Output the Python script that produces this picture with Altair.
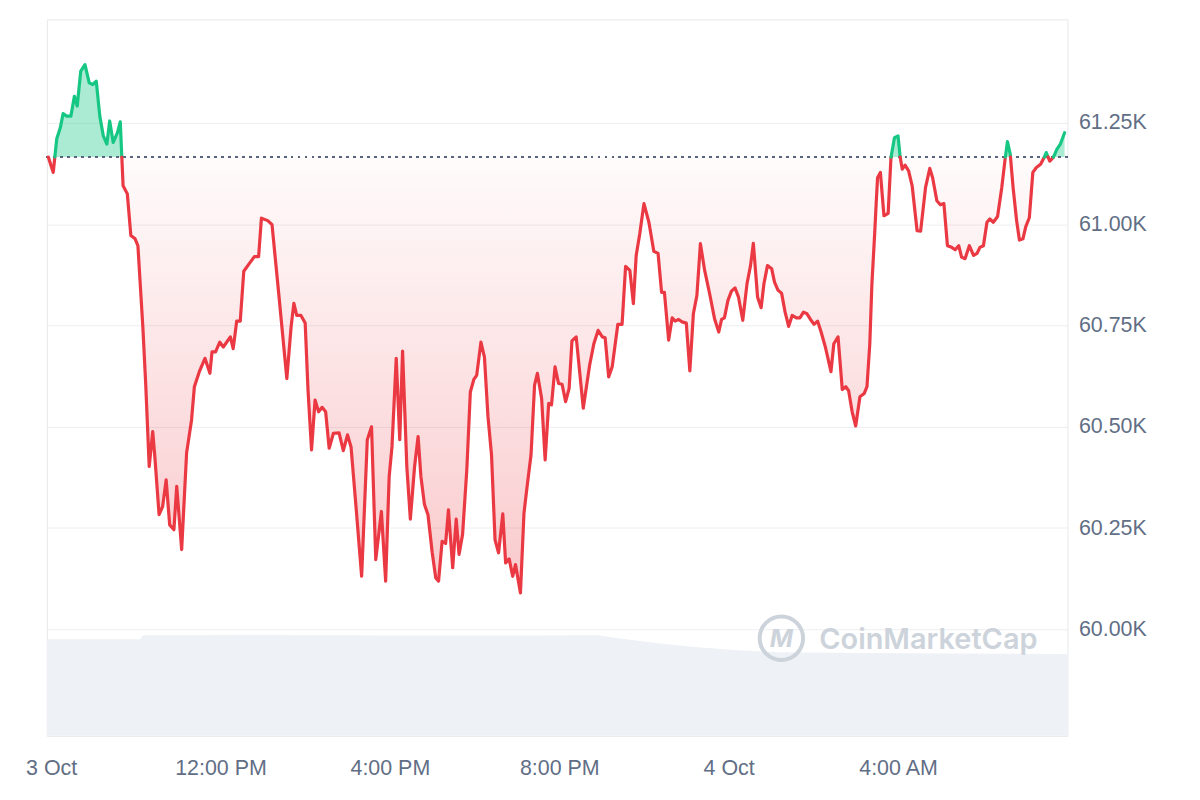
import altair as alt
import pandas as pd

START = "2024-10-03 08:00"
BASE_PRICE = 61166

# minutes after 3 Oct 08:00 and BTC price (USD)
MINUTES = [-4, 3, 8, 13, 17, 22, 28, 33, 37, 42, 48, 54, 59, 64, 69, 74, 79, 83, 88, 94,
           98, 102, 108, 113, 119, 123, 130, 134, 139, 144, 147, 153, 158, 163, 168, 174, 178, 185, 192, 199,
           203, 210, 218, 225, 228, 233, 239, 244, 254, 258, 263, 268, 273, 280, 288, 294, 298, 307, 313, 323,
           334, 340, 344, 348, 354, 360, 364, 369, 374, 379, 384, 389, 394, 400, 408, 414, 420, 425, 432, 440,
           448, 454, 460, 468, 474, 479, 483, 489, 494, 498, 504, 509, 515, 520, 524, 529, 534, 540, 545, 549,
           554, 559, 563, 569, 574, 578, 583, 589, 594, 599, 603, 609, 614, 619, 624, 629, 634, 640, 644, 649,
           654, 658, 665, 670, 675, 680, 685, 689, 695, 700, 705, 709, 714, 719, 724, 729, 734, 738, 744, 754,
           763, 769, 775, 781, 785, 790, 795, 803, 809, 814, 820, 825, 829, 834, 840, 847, 854, 860, 865, 869,
           875, 880, 884, 889, 894, 900, 905, 910, 915, 920, 926, 933, 940, 946, 950, 954, 959, 964, 969, 974,
           980, 986, 991, 995, 1001, 1006, 1010, 1015, 1021, 1025, 1030, 1035, 1040, 1045, 1050, 1056, 1061, 1066, 1071, 1076,
           1081, 1086, 1091, 1097, 1105, 1109, 1115, 1121, 1126, 1130, 1135, 1140, 1146, 1152, 1156, 1160, 1163, 1167, 1169, 1171,
           1175, 1180, 1186, 1190, 1195, 1200, 1203, 1206, 1210, 1215, 1220, 1227, 1232, 1239, 1245, 1249, 1255, 1260, 1265, 1270,
           1276, 1281, 1286, 1290, 1295, 1301, 1307, 1312, 1316, 1321, 1326, 1330, 1335, 1341, 1347, 1352, 1355, 1359, 1363, 1368,
           1372, 1377, 1381, 1386, 1391, 1396, 1402, 1407, 1410, 1415, 1420, 1425, 1430, 1436]
PRICES = [61166, 61128, 61211, 61238, 61273, 61267, 61267, 61316, 61292, 61378, 61394, 61349, 61345, 61353, 61267, 61218, 61198, 61255, 61202, 61226,
          61253, 61095, 61075, 60972, 60964, 60947, 60746, 60608, 60402, 60488, 60426, 60283, 60303, 60369, 60258, 60246, 60353, 60197, 60436, 60517,
          60599, 60636, 60669, 60632, 60685, 60685, 60709, 60697, 60722, 60693, 60761, 60761, 60884, 60901, 60920, 60920, 61015, 61009, 60999, 60820,
          60619, 60746, 60805, 60775, 60775, 60756, 60591, 60443, 60566, 60537, 60548, 60537, 60447, 60484, 60485, 60441, 60480, 60450, 60303, 60131,
          60468, 60500, 60172, 60291, 60119, 60377, 60451, 60669, 60468, 60687, 60402, 60272, 60402, 60476, 60377, 60308, 60283, 60189, 60127, 60119,
          60217, 60212, 60295, 60152, 60272, 60185, 60234, 60394, 60586, 60617, 60627, 60709, 60672, 60525, 60431, 60221, 60189, 60285, 60164, 60174,
          60131, 60160, 60090, 60287, 60361, 60431, 60603, 60632, 60570, 60418, 60558, 60554, 60648, 60607, 60605, 60562, 60595, 60712, 60722, 60546,
          60652, 60705, 60738, 60722, 60720, 60623, 60648, 60753, 60753, 60896, 60886, 60804, 60923, 60976, 61051, 61005, 60933, 60928, 60832, 60832,
          60714, 60769, 60761, 60765, 60759, 60756, 60638, 60779, 60824, 60952, 60886, 60829, 60767, 60734, 60765, 60769, 60812, 60835, 60843, 60820,
          60763, 60853, 60898, 60953, 60820, 60794, 60853, 60898, 60890, 60857, 60837, 60830, 60783, 60748, 60775, 60769, 60769, 60783, 60779, 60765,
          60753, 60761, 60734, 60697, 60636, 60705, 60722, 60592, 60599, 60589, 60537, 60502, 60574, 60582, 60599, 60705, 60853, 60980, 61050, 61115,
          61128, 61021, 61027, 61165, 61214, 61218, 61166, 61136, 61146, 61132, 61095, 60984, 60983, 61091, 61138, 61115, 61058, 61048, 61051, 60947,
          60943, 60937, 60947, 60919, 60915, 60947, 60923, 60928, 60943, 60947, 61005, 61013, 61005, 61019, 61091, 61165, 61204, 61173, 61091, 61009,
          60961, 60964, 60994, 61016, 61128, 61140, 61148, 61165, 61177, 61156, 61165, 61185, 61198, 61226]

# 24h volume (billion USD) underlay
VOL_MINUTES = [-6, 126, 130, 300, 500, 775, 803, 860, 916, 973, 1029, 1199, 1440]
VOLUMES = [32.4, 32.4, 33.7, 33.8, 33.6, 33.7, 32.7, 31.0, 29.7, 28.7, 28.0, 27.7, 27.4]

Y_TICKS = [60000, 60250, 60500, 60750, 61000, 61250]
X_TICK_MINUTES = [0, 240, 480, 720, 960, 1200]

t0 = pd.Timestamp(START)
def ts(m):
    return t0 + pd.Timedelta(minutes=float(m))

# insert baseline crossings so colours switch exactly at the reference price
pts = []
for i, (m, p) in enumerate(zip(MINUTES, PRICES)):
    if i > 0:
        m0, p0 = MINUTES[i - 1], PRICES[i - 1]
        if (p0 - BASE_PRICE) * (p - BASE_PRICE) < 0:
            f = (BASE_PRICE - p0) / (p - p0)
            pts.append((m0 + f * (m - m0), BASE_PRICE))
    pts.append((m, p))

line_rows = []
seg, prev = 0, None
for i in range(len(pts) - 1):
    (ma, pa), (mb, pb) = pts[i], pts[i + 1]
    s = "up" if (pa + pb) / 2 > BASE_PRICE else "down"
    if s != prev:
        seg += 1
        line_rows.append({"time": ts(ma), "price": pa, "sign": s, "seg": seg})
        prev = s
    line_rows.append({"time": ts(mb), "price": pb, "sign": s, "seg": seg})
line_df = pd.DataFrame(line_rows)

area_df = pd.DataFrame({
    "time": [ts(m) for m, _ in pts],
    "lo": [min(p, BASE_PRICE) for _, p in pts],
    "hi": [max(p, BASE_PRICE) for _, p in pts],
    "base": [BASE_PRICE] * len(pts),
})
vol_df = pd.DataFrame({"time": [ts(m) for m in VOL_MINUTES], "vol": VOLUMES})

x_dom = [alt.DateTime(year=2024, month=10, date=3, hours=7, minutes=54),
         alt.DateTime(year=2024, month=10, date=4, hours=8, minutes=0)]
x_ticks = [alt.DateTime(year=ts(m).year, month=ts(m).month, date=ts(m).day, hours=ts(m).hour) for m in X_TICK_MINUTES]
x_scale = alt.Scale(domain=x_dom)
y_scale = alt.Scale(domain=[59737, 61506], zero=False, nice=False)

x_axis = alt.Axis(
    title="", values=x_ticks, grid=False, domain=False, ticks=False, tickSize=0, labelPadding=22,
    labelExpr="(hours(datum.value) == 0 || hours(datum.value) == 8) ? timeFormat(datum.value, '%-d %b') : timeFormat(datum.value, '%-I:%M %p')",
)
y_axis = alt.Axis(
    title="", orient="right", values=Y_TICKS, grid=True, gridColor="#eceef1", domain=False, ticks=False,
    tickSize=0, labelPadding=11, labelExpr="format(datum.value / 1000, '.2f') + 'K'",
)

X = alt.X("time:T", scale=x_scale, axis=x_axis)
Yp = lambda f: alt.Y(f, scale=y_scale, axis=y_axis)

vol = alt.Chart(vol_df).mark_area(color="#eef1f5").encode(
    x=X,
    y=alt.Y("vol:Q", scale=alt.Scale(domain=[0, 240], zero=True, nice=False), axis=None),
)

red_grad = alt.Gradient(
    gradient="linear", x1=0, x2=0, y1=0, y2=1,
    stops=[alt.GradientStop(color="rgba(234,57,67,0.02)", offset=0),
           alt.GradientStop(color="rgba(234,57,67,0.27)", offset=1)],
)
red_area = alt.Chart(area_df).mark_area(color=red_grad).encode(
    x=X, y=Yp("lo:Q"), y2="base:Q",
)
green_area = alt.Chart(area_df).mark_area(color="#16c784", opacity=0.36).encode(
    x=X, y=Yp("hi:Q"), y2="base:Q",
)
base_rule = alt.Chart(area_df).mark_rule(color="#58667e", strokeDash=[2, 5], strokeWidth=1.5).encode(
    y=alt.datum(BASE_PRICE, scale=y_scale, axis=y_axis),
)
lines = alt.Chart(line_df).mark_line(strokeWidth=3.2, strokeJoin="round", strokeCap="round").encode(
    x=X, y=Yp("price:Q"),
    color=alt.Color("sign:N", scale=alt.Scale(domain=["up", "down"], range=["#16c784", "#ea3943"]), legend=None),
    detail="seg:N",
)
price_layer = alt.layer(red_area, green_area, base_rule, lines)

wm_data = alt.Data(values=[{"k": 1}])
wm_text = alt.Chart(wm_data).mark_text(
    text="CoinMarketCap", font="Inter", fontSize=29, fontWeight=600, color="#cdd3db",
    align="left", baseline="middle",
).encode(x=alt.value(775), y=alt.value(623))
wm_circle = alt.Chart(wm_data).mark_point(
    shape="circle", filled=False, size=1900, strokeWidth=4, color="#cdd3db", opacity=1,
).encode(x=alt.value(737), y=alt.value(621))
wm_m = alt.Chart(wm_data).mark_text(
    text="M", font="Inter", fontSize=25, fontWeight=700, fontStyle="italic", color="#cdd3db",
    align="center", baseline="middle",
).encode(x=alt.value(737), y=alt.value(622))

chart = alt.layer(vol, price_layer, wm_circle, wm_m, wm_text).resolve_scale(y="independent").properties(
    width=1024, height=719,
    autosize=alt.AutoSizeParams(type="none"),
    padding={"left": 39, "top": 10, "right": 125, "bottom": 60},
).configure_view(stroke="#e6e8eb").configure_axis(
    labelFont="Liberation Sans", labelFontSize=21.5, labelColor="#616e85",
)

chart.save("out.html", embed_options={"renderer": "svg", "actions": False})
